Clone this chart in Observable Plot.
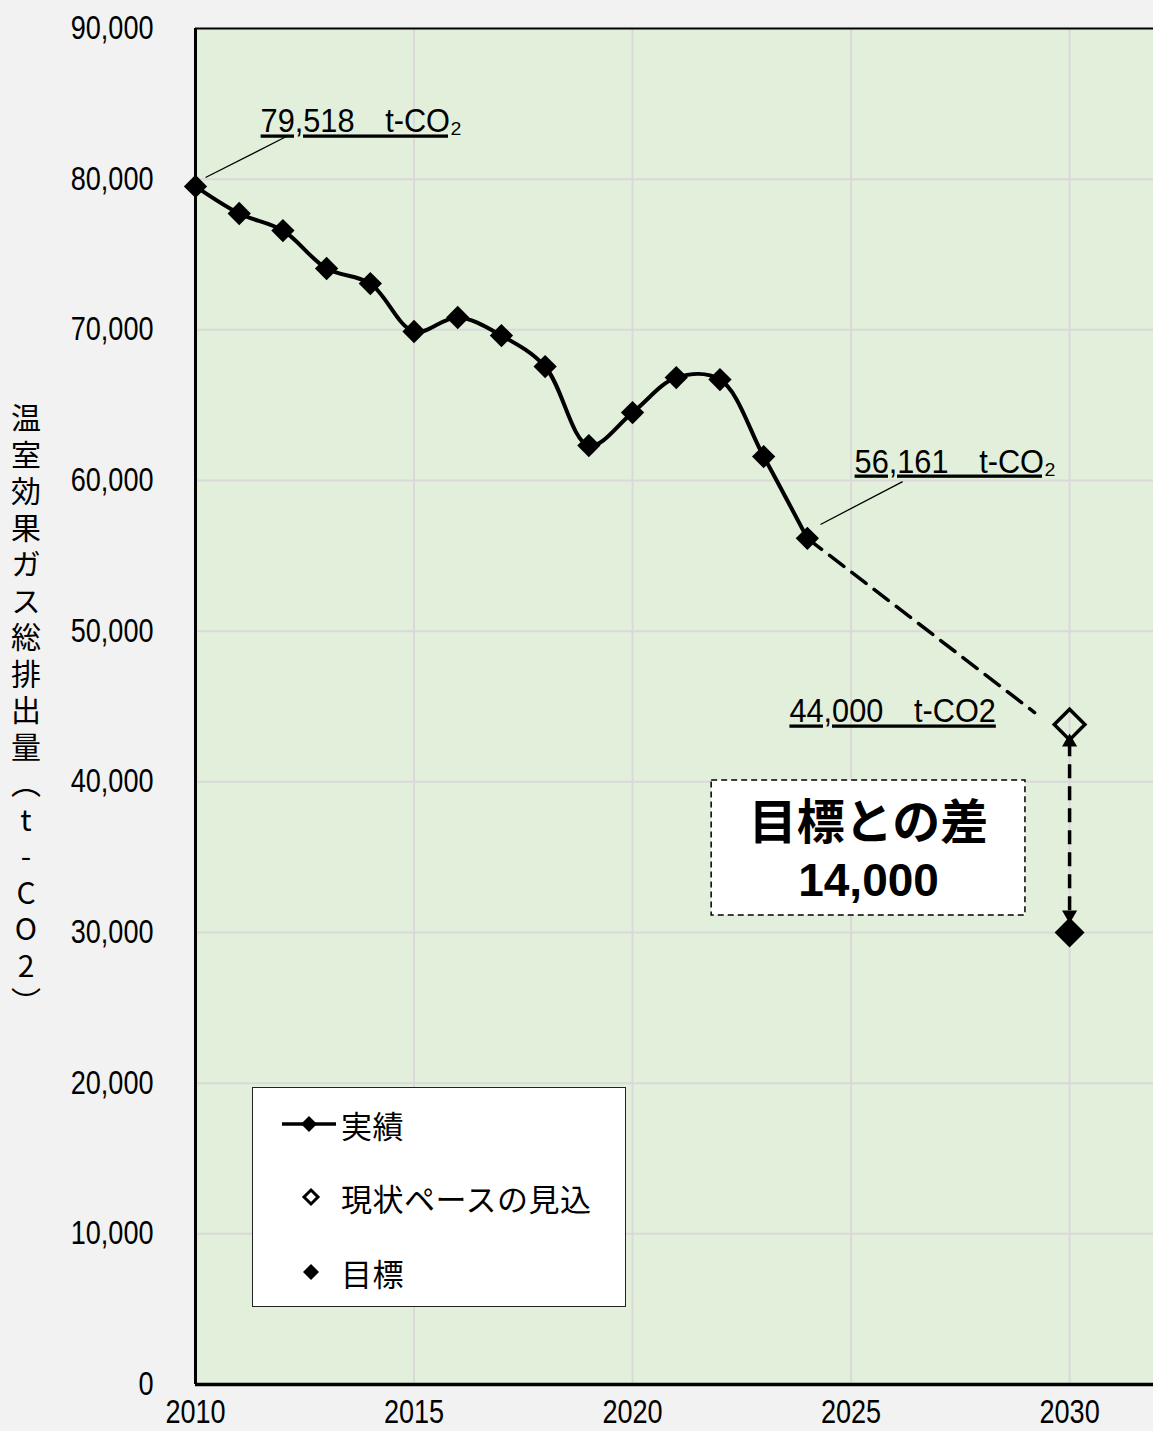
<!DOCTYPE html>
<html lang="ja">
<head>
<meta charset="utf-8">
<script src="https://cdn.jsdelivr.net/npm/d3@7"></script>
<script src="https://cdn.jsdelivr.net/npm/@observablehq/plot@0.6"></script>
<style>
  html, body { margin: 0; padding: 0; background: #f2f2f2; }
  #wrap { position: relative; width: 1153px; height: 1431px; overflow: hidden; }
  #ylabel {
    position: absolute; left: 11px; top: 403px;
    writing-mode: vertical-rl; text-orientation: upright;
    font-family: "Noto Sans CJK JP", sans-serif; font-size: 30px; letter-spacing: 6.5px;
    color: #000; line-height: 1;
  }
  #legend {
    position: absolute; left: 252px; top: 1087px; width: 372px; height: 218px;
    background: #fff; border: 1px solid #222;
    font-family: "Noto Sans CJK JP", sans-serif; font-size: 31px; letter-spacing: 0.5px; color: #000;
  }
  .item { position: absolute; left: 0; height: 40px; display: flex; align-items: center; }
  .item svg { display: block; }
  .item span { line-height: 1; }
</style>
</head>
<body>
<div id="wrap">
  <div id="chart"></div>
  <div id="ylabel"></div>
  <div id="legend"></div>
</div>
<script>
// ---- data ----
const years = [2010, 2011, 2012, 2013, 2014, 2015, 2016, 2017, 2018, 2019, 2020, 2021, 2022, 2023, 2024];
const emissions = [79518, 77720, 76590, 74070, 73070, 69890, 70820, 69620, 67560, 62320, 64510, 66830, 66700, 61590, 56161];
const forecastYear = [2030];
const forecastValue = [43800];
const targetYear = [2030];
const targetValue = [30000];
const projectionYears = [2024, 2029.2];
const projectionValues = [56161, 44600];
const xTicks = [2010, 2015, 2020, 2025, 2030];
const yTicks = [0, 10000, 20000, 30000, 40000, 50000, 60000, 70000, 80000, 90000];
const seriesNames = ["実績", "現状ペースの見込", "目標"];
const yAxisTitle = "温室効果ガス総排出量（t-CO2）";
const labelTexts = ["79,518　t-CO₂", "56,161　t-CO₂", "44,000　t-CO2"];
const gapTitle = "目標との差";
const gapValue = "14,000";

// annotation anchors (data units)
const labelAnchors = [
  {x: 2011.49, y: 83100},
  {x: 2025.08, y: 60530},
  {x: 2023.59, y: 43940}
];
const leaderLines = [
  {x1: 2010.23, y1: 80110, x2: 2012.08, y2: 82830},
  {x1: 2024.30, y1: 57080, x2: 2026.18, y2: 59930}
];
const gapBox = {x1: 2021.81, x2: 2028.99, y1: 31130, y2: 40090};
const arrowSpan = {top: 42630, bottom: 31170};

const numFont = '"Liberation Sans", Arial, sans-serif';
const cjkFont = '"Noto Sans CJK JP", sans-serif';

const actual = years.map((year, i) => ({year, value: emissions[i]}));
const projection = projectionYears.map((year, i) => ({year, value: projectionValues[i]}));
const forecast = forecastYear.map((year, i) => ({year, value: forecastValue[i]}));
const target = targetYear.map((year, i) => ({year, value: targetValue[i]}));
const labels = labelAnchors.map((a, i) => ({...a, text: labelTexts[i]}));
const gapMid = (gapBox.x1 + gapBox.x2) / 2;

const chart = Plot.plot({
  width: 1153,
  height: 1431,
  marginLeft: 195,
  marginRight: 0,
  marginTop: 28,
  marginBottom: 47,
  style: {background: "#f2f2f2", fontFamily: numFont, fontSize: "33px", color: "#000", overflow: "visible"},
  x: {domain: [2010, 2031.92], ticks: xTicks, tickFormat: d => String(d)},
  y: {domain: [0, 90000], ticks: yTicks, tickFormat: d3.format(",")},
  marks: [
    Plot.frame({fill: "#e2efda", stroke: null}),
    Plot.ruleX(xTicks.filter(d => d !== 2010), {stroke: "#d9d9d9", strokeWidth: 2}),
    Plot.ruleY(yTicks.filter(d => d !== 0 && d !== 90000), {stroke: "#d9d9d9", strokeWidth: 2}),
    Plot.ruleY([90000], {stroke: "#000", strokeWidth: 2}),
    Plot.ruleX([2010], {stroke: "#000", strokeWidth: 3}),
    Plot.ruleY([0], {stroke: "#000", strokeWidth: 3.5}),
    Plot.axisY({ticks: yTicks, tickSize: 0, tickPadding: 42, fontSize: 33, tickFormat: d3.format(",")}),
    Plot.axisX({ticks: xTicks, tickSize: 0, tickPadding: 15, fontSize: 33, tickFormat: d => String(d)}),
    // projection (dashed)
    Plot.line(projection, {x: "year", y: "value", stroke: "#000", strokeWidth: 3.5, strokeDasharray: "18,10"}),
    // gap arrow
    Plot.link([arrowSpan], {x1: () => 2030, x2: () => 2030, y1: "top", y2: "bottom", stroke: "#000", strokeWidth: 3.5, strokeDasharray: "14,8"}),
    Plot.dot([arrowSpan.top], {x: () => 2030, y: d => d, symbol: "triangle", r: 5.6, fill: "#000"}),
    Plot.dot([arrowSpan.bottom], {x: () => 2030, y: d => d, symbol: "triangle", r: 5.6, fill: "#000", rotate: 180}),
    // actual line
    Plot.line(actual, {x: "year", y: "value", curve: "catmull-rom", stroke: "#000", strokeWidth: 4}),
    Plot.dot(actual, {x: "year", y: "value", symbol: "diamond2", r: 10.5, fill: "#000"}),
    // forecast & target
    Plot.dot(forecast, {x: "year", y: "value", symbol: "diamond2", r: 13.8, fill: "none", stroke: "#000", strokeWidth: 3.5}),
    Plot.dot(target, {x: "year", y: "value", symbol: "diamond2", r: 13.5, fill: "#000"}),
    // leader lines & labels
    Plot.link(leaderLines, {x1: "x1", y1: "y1", x2: "x2", y2: "y2", stroke: "#000", strokeWidth: 1.3}),
    Plot.text(labels, {x: "x", y: "y", text: "text", textAnchor: "start", lineAnchor: "bottom", fontSize: 33, fill: "#000"}),
    // gap box
    Plot.rect([gapBox], {x1: "x1", x2: "x2", y1: "y1", y2: "y2", fill: "#fff", stroke: "#000", strokeWidth: 1.5, strokeDasharray: "6,4"}),
    Plot.text([gapTitle], {x: () => gapMid, y: () => 37250, text: d => d, fontSize: 48, fontWeight: "bold", fontFamily: cjkFont, fill: "#000"}),
    Plot.text([gapValue], {x: () => gapMid, y: () => 33400, text: d => d, fontSize: 46, fontWeight: "bold", fill: "#000"})
  ]
});

document.getElementById("chart").appendChild(chart);

// underline the data labels
d3.select(chart).selectAll("text").filter(function() { return labelTexts.includes(this.textContent); })
  .style("text-decoration", "underline");

// condense the regular numeric texts (reference uses a narrow face)
d3.select(chart).selectAll("text").each(function() {
  const t = this.textContent;
  if (t === gapTitle || t === gapValue || this.querySelector("tspan")) return;
  const len = this.getComputedTextLength();
  const factor = labelTexts.includes(t) ? 0.93 : 0.82;
  if (len > 0) {
    this.setAttribute("textLength", (len * factor).toFixed(1));
    this.setAttribute("lengthAdjust", "spacingAndGlyphs");
  }
});

document.getElementById("ylabel").textContent = yAxisTitle;

// legend
const legend = document.getElementById("legend");
const swatches = [
  `<svg width="88" height="40"><line x1="29" y1="20" x2="83" y2="20" stroke="#000" stroke-width="3.5"/><path d="M56,12 L64,20 L56,28 L48,20 Z" fill="#000"/></svg>`,
  `<svg width="88" height="40"><path d="M58,13 L65,20 L58,27 L51,20 Z" fill="none" stroke="#000" stroke-width="3"/></svg>`,
  `<svg width="88" height="40"><path d="M58,12 L66,20 L58,28 L50,20 Z" fill="#000"/></svg>`
];
const itemTops = [16, 89, 164];
seriesNames.forEach((name, i) => {
  const div = document.createElement("div");
  div.className = "item";
  div.style.top = itemTops[i] + "px";
  div.innerHTML = swatches[i] + `<span>${name}</span>`;
  legend.appendChild(div);
});
</script>
</body>
</html>
